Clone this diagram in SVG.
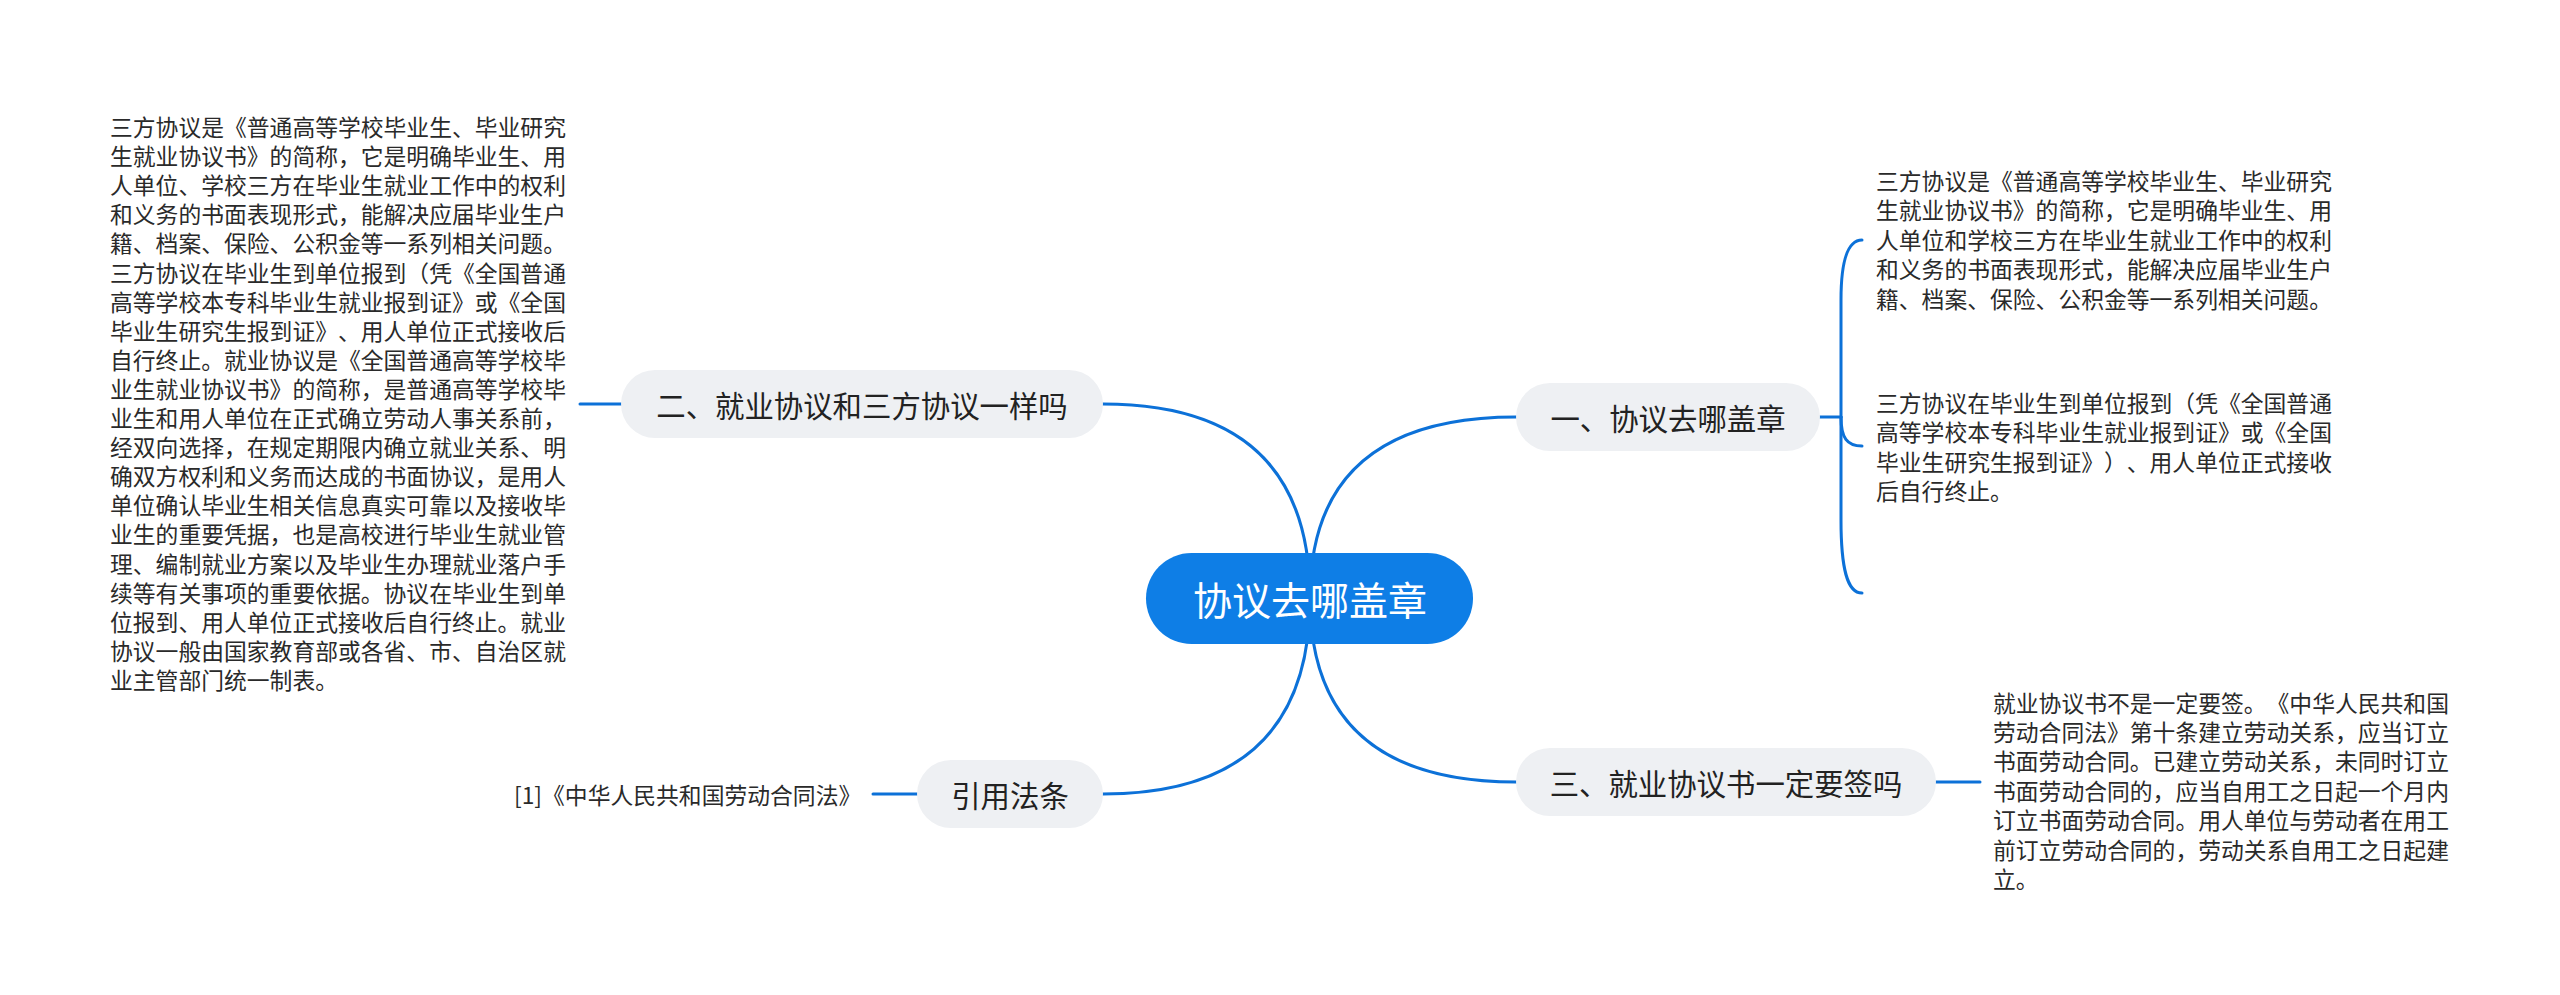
<svg xmlns="http://www.w3.org/2000/svg" width="2560" height="995" viewBox="0 0 2560 995">
<style>
.bg{fill:#ffffff}
.conn{fill:none;stroke:#0c71d8;stroke-width:3;stroke-linecap:round}
.sub{fill:#eef0f3}
.root{fill:#0e7ee6}
.lbl{font-family:"Noto Sans CJK SC","Noto Sans",sans-serif;font-size:29.4px;fill:#222222;text-anchor:middle;dominant-baseline:central;text-spacing-trim:space-all}
.rootlbl{font-family:"Noto Sans CJK SC","Noto Sans",sans-serif;font-size:39px;fill:#ffffff;text-anchor:middle;dominant-baseline:central}
.para{font-family:"Noto Sans CJK SC","Noto Sans",sans-serif;font-size:22.8px;fill:#2a2a2a;text-spacing-trim:space-all}
</style>
<rect class="bg" x="0" y="0" width="2560" height="995"/>
<g id="connectors">
<path class="conn" d="M1310,598 Q1310,404 1103,404"/>
<path class="conn" d="M1310,598 Q1310,417 1516,417"/>
<path class="conn" d="M1310,598 Q1310,782 1516,782"/>
<path class="conn" d="M1310,598 Q1310,794 1103,794"/>
<path class="conn" d="M580,404 H621"/>
<path class="conn" d="M873,794 H917"/>
<path class="conn" d="M1936,782 H1980"/>
<path class="conn" d="M1820,417 H1841"/>
<path class="conn" d="M1841,417 L1841,300 C1841,265 1846,240 1862,240"/>
<path class="conn" d="M1841,417 C1841,438 1847,446 1862,446"/>
<path class="conn" d="M1841,417 L1841,520 C1841,568 1847,593 1862,593"/>
</g>
<g id="root">
<rect class="root" x="1146" y="553" width="327" height="91" rx="45.5"/>
<text class="rootlbl" x="1310" y="598">协议去哪盖章</text>
</g>
<g id="node-1">
<rect class="sub" x="1516" y="383" width="304" height="68" rx="34"/>
<text class="lbl" x="1668" y="417">一、协议去哪盖章</text>
</g>
<g id="node-2">
<rect class="sub" x="621" y="370" width="482" height="68" rx="34"/>
<text class="lbl" x="862" y="404">二、就业协议和三方协议一样吗</text>
</g>
<g id="node-3">
<rect class="sub" x="1516" y="748" width="420" height="68" rx="34"/>
<text class="lbl" x="1726" y="782">三、就业协议书一定要签吗</text>
</g>
<g id="node-ref">
<rect class="sub" x="917" y="760" width="186" height="68" rx="34"/>
<text class="lbl" x="1010" y="794">引用法条</text>
</g>
<g id="text-2">
<text class="para" x="110" y="136">
<tspan x="110" dy="0">三方协议是《普通高等学校毕业生、毕业研究</tspan>
<tspan x="110" dy="29.1">生就业协议书》的简称，它是明确毕业生、用</tspan>
<tspan x="110" dy="29.1">人单位、学校三方在毕业生就业工作中的权利</tspan>
<tspan x="110" dy="29.1">和义务的书面表现形式，能解决应届毕业生户</tspan>
<tspan x="110" dy="29.1">籍、档案、保险、公积金等一系列相关问题。</tspan>
<tspan x="110" dy="29.1">三方协议在毕业生到单位报到（凭《全国普通</tspan>
<tspan x="110" dy="29.1">高等学校本专科毕业生就业报到证》或《全国</tspan>
<tspan x="110" dy="29.1">毕业生研究生报到证》、用人单位正式接收后</tspan>
<tspan x="110" dy="29.1">自行终止。就业协议是《全国普通高等学校毕</tspan>
<tspan x="110" dy="29.1">业生就业协议书》的简称，是普通高等学校毕</tspan>
<tspan x="110" dy="29.1">业生和用人单位在正式确立劳动人事关系前，</tspan>
<tspan x="110" dy="29.1">经双向选择，在规定期限内确立就业关系、明</tspan>
<tspan x="110" dy="29.1">确双方权利和义务而达成的书面协议，是用人</tspan>
<tspan x="110" dy="29.1">单位确认毕业生相关信息真实可靠以及接收毕</tspan>
<tspan x="110" dy="29.1">业生的重要凭据，也是高校进行毕业生就业管</tspan>
<tspan x="110" dy="29.1">理、编制就业方案以及毕业生办理就业落户手</tspan>
<tspan x="110" dy="29.1">续等有关事项的重要依据。协议在毕业生到单</tspan>
<tspan x="110" dy="29.1">位报到、用人单位正式接收后自行终止。就业</tspan>
<tspan x="110" dy="29.1">协议一般由国家教育部或各省、市、自治区就</tspan>
<tspan x="110" dy="29.1">业主管部门统一制表。</tspan>
</text>
</g>
<g id="text-1a">
<text class="para" x="1876" y="189.5">
<tspan x="1876" dy="0">三方协议是《普通高等学校毕业生、毕业研究</tspan>
<tspan x="1876" dy="29.6">生就业协议书》的简称，它是明确毕业生、用</tspan>
<tspan x="1876" dy="29.6">人单位和学校三方在毕业生就业工作中的权利</tspan>
<tspan x="1876" dy="29.6">和义务的书面表现形式，能解决应届毕业生户</tspan>
<tspan x="1876" dy="29.6">籍、档案、保险、公积金等一系列相关问题。</tspan>
</text>
</g>
<g id="text-1b">
<text class="para" x="1876" y="411.5">
<tspan x="1876" dy="0">三方协议在毕业生到单位报到（凭《全国普通</tspan>
<tspan x="1876" dy="29.5">高等学校本专科毕业生就业报到证》或《全国</tspan>
<tspan x="1876" dy="29.5">毕业生研究生报到证》）、用人单位正式接收</tspan>
<tspan x="1876" dy="29.5">后自行终止。</tspan>
</text>
</g>
<g id="text-3">
<text class="para" x="1993" y="711.5">
<tspan x="1993" dy="0">就业协议书不是一定要签。《中华人民共和国</tspan>
<tspan x="1993" dy="29.45">劳动合同法》第十条建立劳动关系，应当订立</tspan>
<tspan x="1993" dy="29.45">书面劳动合同。已建立劳动关系，未同时订立</tspan>
<tspan x="1993" dy="29.45">书面劳动合同的，应当自用工之日起一个月内</tspan>
<tspan x="1993" dy="29.45">订立书面劳动合同。用人单位与劳动者在用工</tspan>
<tspan x="1993" dy="29.45">前订立劳动合同的，劳动关系自用工之日起建</tspan>
<tspan x="1993" dy="29.45">立。</tspan>
</text>
</g>
<g id="text-ref">
<text class="para" x="514" y="794" dominant-baseline="central">[1]《中华人民共和国劳动合同法》</text>
</g>
</svg>
